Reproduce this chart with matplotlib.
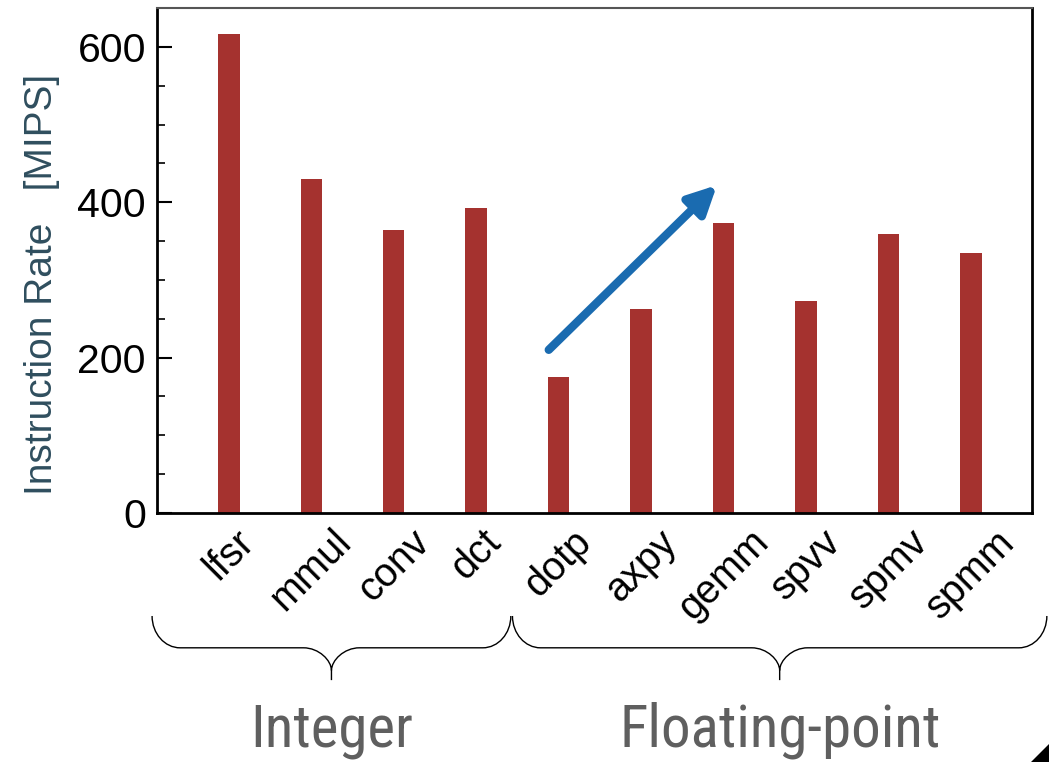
"""
Instruction rate per kernel (MIPS), integer vs floating-point
"""

import matplotlib.pyplot as plt
import numpy as np
from matplotlib import font_manager
from matplotlib.patches import PathPatch, Polygon
from matplotlib.path import Path

plt.rcParams["font.family"] = ["Liberation Sans", "DejaVu Sans"]

# 数据
kernels = ["lfsr", "mmul", "conv", "dct", "dotp", "axpy", "gemm", "spvv", "spmv", "spmm"]
mips = [617, 430, 364, 392, 175, 263, 373, 273, 359, 334]
groups = ["Integer", "Floating-point"]
group_span = [(-0.93, 3.42), (3.44, 9.92)]  # 花括号覆盖的 x 范围
arrow_from = (3.88, 210)
arrow_to = (5.92, 422)

BAR_COLOR = "#A5322F"
ARROW_COLOR = "#1A6BB0"
LABEL_COLOR = "#2F4E5E"
GROUP_COLOR = "#5F5F5F"

# 窄体字体 (若可用)
installed = {f.name for f in font_manager.fontManager.ttflist}
narrow = [n for n in ["Roboto Condensed", "Liberation Sans Narrow", "Open Sans Condensed"] if n in installed]
group_font = narrow[0] if narrow else "Liberation Sans"
group_size = 42.5 if narrow else 37


def brace(ax, x0, x1, y_top, y_mid, y_cusp, y_tip, r):
    """在 x0..x1 之间画一个向下的花括号 (x 为数据坐标, y 为轴坐标)"""
    k = 0.552
    xm = (x0 + x1) / 2
    verts = [
        (x0, y_top),
        (x0, y_top + k * (y_mid - y_top)), (x0 + r * (1 - k), y_mid), (x0 + r, y_mid),
        (xm - r, y_mid),
        (xm - r * (1 - k), y_mid), (xm, y_mid + k * (y_cusp - y_mid)), (xm, y_cusp),
        (xm, y_tip),
        (xm, y_cusp),
        (xm, y_mid + k * (y_cusp - y_mid)), (xm + r * (1 - k), y_mid), (xm + r, y_mid),
        (x1 - r, y_mid),
        (x1 - r * (1 - k), y_mid), (x1, y_top + k * (y_mid - y_top)), (x1, y_top),
    ]
    codes = [
        Path.MOVETO,
        Path.CURVE4, Path.CURVE4, Path.CURVE4,
        Path.LINETO,
        Path.CURVE4, Path.CURVE4, Path.CURVE4,
        Path.LINETO,
        Path.MOVETO,
        Path.CURVE4, Path.CURVE4, Path.CURVE4,
        Path.LINETO,
        Path.CURVE4, Path.CURVE4, Path.CURVE4,
    ]
    patch = PathPatch(Path(verts, codes), fill=False, lw=1.0, color="black",
                      transform=ax.get_xaxis_transform(), clip_on=False)
    ax.add_patch(patch)


fig = plt.figure(figsize=(10.49, 7.62), dpi=100)
ax = fig.add_axes([0.1497, 0.3268, 0.8341, 0.6627])

x = np.arange(len(kernels))
ax.bar(x, mips, width=0.26, color=BAR_COLOR, zorder=2)

ax.set_xlim(-0.87, 9.74)
ax.set_ylim(0, 650)
ax.set_yticks([0, 200, 400, 600])
ax.set_yticks(np.arange(0, 650, 50), minor=True)
ax.tick_params(axis="y", which="major", direction="in", length=11, width=1.5,
               labelsize=29.5, pad=8)
ax.tick_params(axis="y", which="minor", direction="in", length=6, width=1.2)
ax.set_xticks(x)
ax.set_xticklabels(kernels, rotation=45, ha="center")
ax.tick_params(axis="x", length=0, labelsize=28.5, pad=7)

for side in ["left", "right", "bottom"]:
    ax.spines[side].set_linewidth(2)
ax.spines["top"].set_linewidth(1.5)
ax.spines["top"].set_color("#555555")

ax.set_ylabel("Instruction Rate   [MIPS]", fontsize=28, color=LABEL_COLOR)
ax.yaxis.set_label_coords(-0.111, 0.452)

# 趋势箭头
ax.annotate("", xy=arrow_to, xytext=arrow_from,
            arrowprops=dict(arrowstyle="-|>", lw=6, color=ARROW_COLOR,
                            mutation_scale=42, shrinkA=0, shrinkB=0))

# 分组花括号与标签
for name, (x0, x1) in zip(groups, group_span):
    brace(ax, x0, x1, -0.204, -0.267, -0.312, -0.331, 0.34)
    ax.text((x0 + x1) / 2, -0.43, name, transform=ax.get_xaxis_transform(),
            ha="center", va="center", fontsize=group_size, family=group_font,
            color=GROUP_COLOR)

# 右下角的小三角
fig.patches.append(Polygon([(1031 / 1049, 0), (1, 0), (1, 18 / 762)],
                           closed=True, transform=fig.transFigure, color="black"))

fig.savefig("out.png", dpi=100)
plt.close(fig)
